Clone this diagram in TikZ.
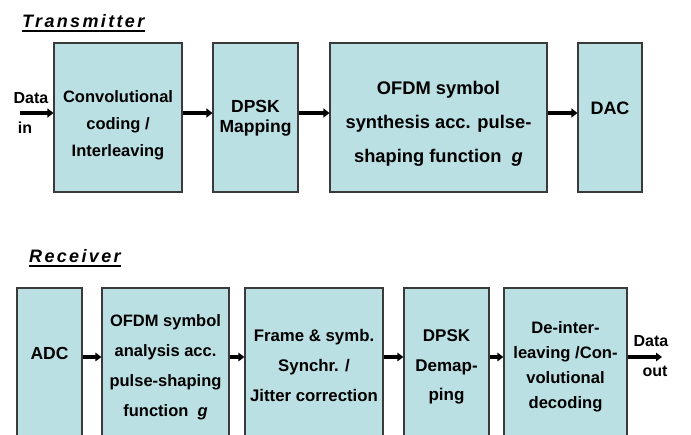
\documentclass[tikz,border=0pt]{standalone}
\usepackage{fontspec}
\setmainfont{Liberation Sans}
\usetikzlibrary{arrows.meta}
\definecolor{boxfill}{HTML}{BBE0E3}
\definecolor{boxline}{HTML}{3A3A3A}
\tikzset{
  box/.style={draw=boxline, line width=1.1pt, fill=boxfill, inner sep=0pt},
  lbl/.style={align=center, inner sep=0pt},
  fs/.style 2 args={font=\bfseries\fontsize{#1}{#2}\selectfont},
  ttl/.style={anchor=base west, inner sep=0pt, font=\bfseries\itshape\fontsize{18}{20}\selectfont\addfontfeatures{LetterSpace=13}},
  arr/.style={line width=3.6pt, -{Triangle[length=6pt,width=9pt]}},
  arrr/.style={line width=3.2pt, -{Triangle[length=6pt,width=8.5pt]}},
}
\begin{document}
\begin{tikzpicture}[x=1pt,y=-1pt]
\useasboundingbox (0,0) rectangle (691,434);
\clip (0,0) rectangle (691,434);

% titles
\node[ttl] (tt) at (22,27) {Transmitter};
\draw[line width=1.5pt] ([yshift=-4pt]tt.base west) -- ([yshift=-4pt]tt.base east);
\node[ttl] (rt) at (29,262) {Receiver};
\draw[line width=1.5pt] ([yshift=-4pt]rt.base west) -- ([yshift=-4pt]rt.base east);

% transmitter boxes
\node[box, minimum width=128, minimum height=149] (c1) at (118,117.5) {};
\node[box, minimum width=85,  minimum height=149] (c2) at (255.5,117.5) {};
\node[box, minimum width=217, minimum height=149] (c3) at (438.5,117.5) {};
\node[box, minimum width=64,  minimum height=149] (c4) at (610,117.5) {};

\node[lbl, fs={16.5}{27}] (c1t) at (118,125.5) {Convolutional\\coding /\\Interleaving};
\node[lbl, fs={17.5}{20.5}] (c2t) at (255.5,118) {DPSK\\Mapping};
\node[lbl, fs={18.3}{34}] (c3t) at (438.5,124) {OFDM symbol\\synthesis acc. pulse-\\shaping function\ \ \textit{g}};
\node[lbl, fs={18}{20}] (c4t) at (610,108) {DAC};

% receiver boxes
\node[box, minimum width=65,  minimum height=172] (r1) at (49.5,374) {};
\node[box, minimum width=127, minimum height=172] (r2) at (165.5,374) {};
\node[box, minimum width=138, minimum height=172] (r3) at (314,374) {};
\node[box, minimum width=85,  minimum height=172] (r4) at (446.5,374) {};
\node[box, minimum width=123, minimum height=172] (r5) at (565.5,374) {};

\node[lbl, fs={17.5}{20}] (r1t) at (49.5,353) {ADC};
\node[lbl, fs={16.5}{30}] (r2t) at (165.5,367) {OFDM symbol\\analysis acc.\\pulse-shaping\\function\ \ \textit{g}};
\node[lbl, fs={16.8}{30}] (r3t) at (314,365) {Frame \& symb.\\Synchr. /\\Jitter correction};
\node[lbl, fs={17}{29.5}] (r4t) at (446.5,367) {DPSK\\Demap-\\ping};
\node[lbl, fs={16.6}{25}] (r5t) at (565.5,367) {De-inter-\\leaving /Con-\\volutional\\decoding};

% data labels
\node[lbl, fs={16}{19}] (din1) at (31,98) {Data};
\node[lbl, fs={16}{19}] (din2) at (25,128) {in};
\node[lbl, fs={16}{19}] (dout1) at (651,341) {Data};
\node[lbl, fs={16}{19}] (dout2) at (655,371) {out};

% connectors
\coordinate (ty) at (0,113);
\coordinate (ry) at (0,357);
\coordinate (din) at (20,113);
\coordinate (dout) at (662,357);
\draw[arr] (din) -- (c1.west |- ty);
\draw[arr] (c1.east |- ty) -- (c2.west |- ty);
\draw[arr] (c2.east |- ty) -- (c3.west |- ty);
\draw[arr] (c3.east |- ty) -- (c4.west |- ty);
\draw[arrr] (r1.east |- ry) -- (r2.west |- ry);
\draw[arrr] (r2.east |- ry) -- (r3.west |- ry);
\draw[arrr] (r3.east |- ry) -- (r4.west |- ry);
\draw[arrr] (r4.east |- ry) -- (r5.west |- ry);
\draw[arrr] (r5.east |- ry) -- (dout);
\end{tikzpicture}
\end{document}
